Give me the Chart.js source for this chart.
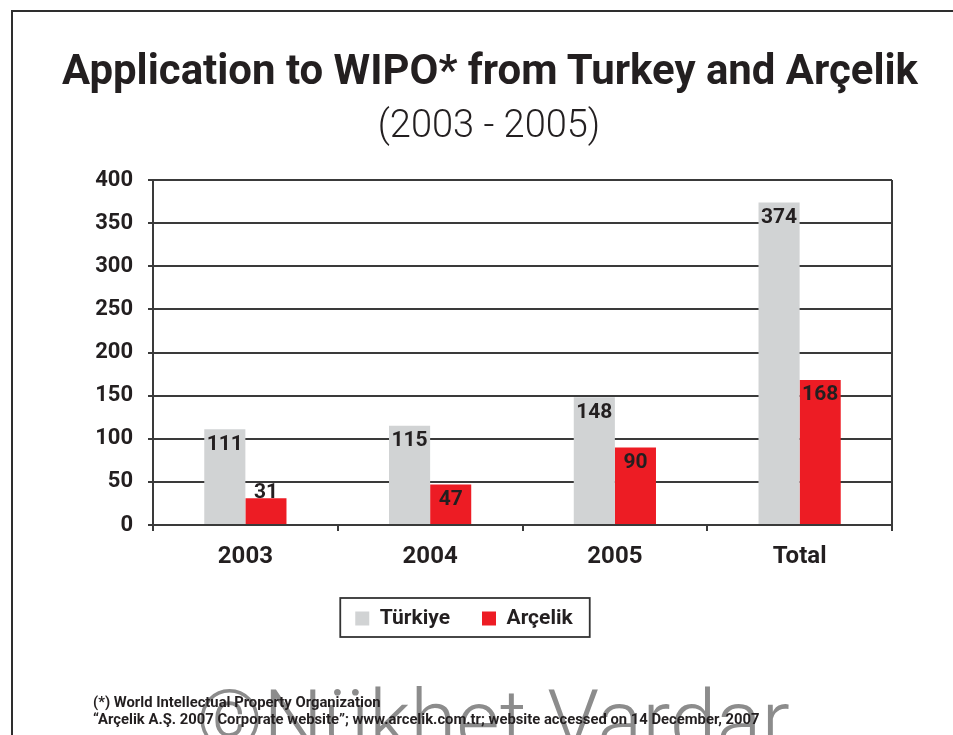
<!DOCTYPE html>
<html>
<head>
<meta charset="utf-8">
<script src="https://cdn.jsdelivr.net/npm/chart.js@4"></script>
<style>
  html, body { margin: 0; padding: 0; background: #fff; }
  body { width: 953px; height: 735px; position: relative; overflow: hidden; font-family: Roboto, sans-serif; color: #231f20; }
  #frame { position: absolute; left: 11px; top: 10px; width: 1000px; height: 800px; border-left: 2px solid #2e2e2e; border-top: 2px solid #2e2e2e; }
  #chart { position: absolute; left: 0; top: 0; z-index: 1; }
  #title { position: absolute; left: 0; width: 980px; top: 45px; text-align: center; font-weight: 700; font-size: 42px; line-height: 50px; white-space: nowrap; z-index: 2; }
  #title span { display: inline-block; transform-origin: center; }
  #subtitle { position: absolute; left: 0; width: 978px; top: 100px; text-align: center; font-weight: 300; font-size: 38px; line-height: 48px; z-index: 2; }
  #watermark { position: absolute; left: 196px; top: 679px; font-weight: 300; font-size: 84px; line-height: 1; color: #8c8c8c; white-space: nowrap; z-index: 0; }
  #notes { position: absolute; left: 93px; top: 694px; font-weight: 700; font-size: 14.8px; line-height: 17px; z-index: 2; white-space: nowrap; }
</style>
</head>
<body>
<div id="frame"></div>
<div id="watermark">©Nükhet Vardar</div>
<div id="title"><span>Application to WIPO* from Turkey and Arçelik</span></div>
<div id="subtitle">(2003 - 2005)</div>
<canvas id="chart" width="953" height="735"></canvas>
<div id="notes">(*) World Intellectual Property Organization<br>“Arçelik A.Ş. 2007 Corporate website”; www.arcelik.com.tr; website accessed on 14 December, 2007</div>
<script>
// chart data
const categories = ['2003', '2004', '2005', 'Total'];
const turkiyeValues = [111, 115, 148, 374];
const arcelikValues = [31, 47, 90, 168];
const seriesNames = ['Türkiye', 'Arçelik'];
const yTicks = [0, 50, 100, 150, 200, 250, 300, 350, 400];

const textColor = '#231f20';
const lineColor = '#3a3a3a';

// squeeze the title a bit so it looks like the narrow original font
let titleSpan = document.querySelector('#title span');
let w = titleSpan.getBoundingClientRect().width;
titleSpan.style.transform = 'scaleX(' + (856 / w) + ')';

// value labels sitting inside the top of each bar
const barLabels = {
    id: 'barLabels',
    afterDatasetsDraw(chart) {
        let ctx = chart.ctx;
        ctx.save();
        ctx.font = 'bold 21px Roboto';
        ctx.fillStyle = textColor;
        ctx.textAlign = 'center';
        ctx.textBaseline = 'middle';
        chart.data.datasets.forEach((ds, i) => {
            chart.getDatasetMeta(i).data.forEach((bar, j) => {
                let h = bar.base - bar.y;
                let y = h > 35 ? bar.y + 15 : bar.y - 6;
                ctx.fillText(ds.data[j], bar.x, y);
            });
        });
        ctx.restore();
    }
};

// right border of the plot and the box round the legend
const frames = {
    id: 'frames',
    afterDraw(chart) {
        let ctx = chart.ctx;
        let a = chart.chartArea;
        ctx.save();
        ctx.strokeStyle = lineColor;
        ctx.lineWidth = 2;
        ctx.beginPath();
        ctx.moveTo(a.right, a.top);
        ctx.lineTo(a.right, a.bottom + 6);
        ctx.stroke();

        let boxes = chart.legend.legendHitBoxes;
        if (boxes && boxes.length) {
            let left = boxes[0].left - 15;
            let right = boxes[boxes.length - 1].left + boxes[boxes.length - 1].width + 17;
            let top = boxes[0].top - 10;
            let bottom = boxes[0].top + boxes[0].height + 8;
            ctx.strokeStyle = '#333';
            ctx.lineWidth = 1.8;
            ctx.strokeRect(left, top, right - left, bottom - top);
        }
        ctx.restore();
    }
};

let ctx = document.getElementById('chart').getContext('2d');
new Chart(ctx, {
    type: 'bar',
    data: {
        labels: categories,
        datasets: [
            { label: seriesNames[0], data: turkiyeValues, backgroundColor: '#d1d3d4' },
            { label: seriesNames[1], data: arcelikValues, backgroundColor: '#ed1c24' }
        ]
    },
    options: {
        responsive: false,
        animation: false,
        devicePixelRatio: 1,
        categoryPercentage: 0.445,
        barPercentage: 1,
        layout: { padding: { top: 180, left: 36, right: 61, bottom: 96 } },
        scales: {
            x: {
                grid: { drawOnChartArea: false, offset: true, color: lineColor, lineWidth: 2, tickLength: 6 },
                border: { color: lineColor, width: 2 },
                ticks: { color: textColor, font: { family: 'Roboto', weight: 'bold', size: 24 }, padding: 12 },
                afterFit(scale) { scale.height = 51; }
            },
            y: {
                min: 0,
                max: 400,
                afterBuildTicks(scale) { scale.ticks = yTicks.map(v => ({ value: v })); },
                grid: { color: lineColor, lineWidth: 2, tickLength: 5 },
                border: { color: lineColor, width: 2 },
                ticks: { color: textColor, font: { family: 'Roboto', weight: 'bold', size: 22 }, padding: 15 },
                afterFit(scale) { scale.width = 117; }
            }
        },
        plugins: {
            legend: {
                position: 'bottom',
                labels: {
                    color: textColor,
                    boxWidth: 14,
                    boxHeight: 14,
                    padding: 32,
                    font: { family: 'Roboto', weight: 'bold', size: 21 }
                }
            },
            tooltip: { enabled: false }
        }
    },
    plugins: [barLabels, frames]
});
</script>
</body>
</html>
